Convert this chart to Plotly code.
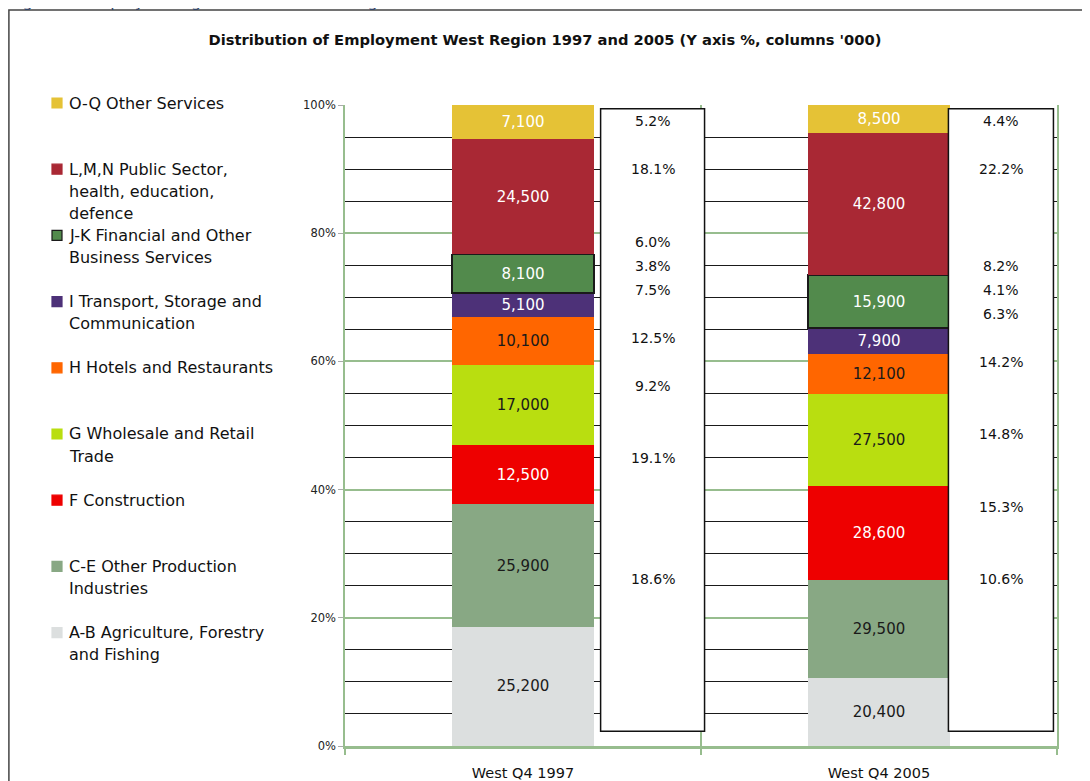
import plotly.graph_objects as go

# categories and values ('000 employees), bottom of stack first
years = ["West Q4 1997", "West Q4 2005"]
sectors = [
    "A-B Agriculture, Forestry and Fishing",
    "C-E Other Production Industries",
    "F Construction",
    "G Wholesale and Retail Trade",
    "H Hotels and Restaurants",
    "I Transport, Storage and Communication",
    "J-K Financial and Other Business Services",
    "L,M,N Public Sector, health, education, defence",
    "O-Q Other Services",
]
emp_1997 = [25200, 25900, 12500, 17000, 10100, 5100, 8100, 24500, 7100]
emp_2005 = [20400, 29500, 28600, 27500, 12100, 7900, 15900, 42800, 8500]

colors = ["#DCDFDF", "#88A884", "#EE0000", "#B9DE10", "#FF6600",
          "#4D3178", "#528A4C", "#A92834", "#E5C236"]
text_colors = ["#1a1a1a", "#1a1a1a", "white", "#1a1a1a", "#1a1a1a",
               "white", "white", "white", "white"]

# legend wording as it is wrapped in the original (top item first)
legend_lines = [
    ["O-Q Other Services"],
    ["L,M,N Public Sector,", "health, education,", "defence"],
    ["J-K Financial and Other", "Business Services"],
    ["I Transport, Storage and", "Communication"],
    ["H Hotels and Restaurants"],
    ["G Wholesale and Retail", "Trade"],
    ["F Construction"],
    ["C-E Other Production", "Industries"],
    ["A-B Agriculture, Forestry", "and Fishing"],
]

# text-box line slot of each share label (top item first)
share_lines_1997 = [0, 2, 5, 6, 7, 9, 11, 14, 19]
share_lines_2005 = [0, 2, 6, 7, 8, 10, 13, 16, 19]

y_ticks = [0, 20, 40, 60, 80, 100]

FONT = "DejaVu Sans"
GREEN = "#97BD8E"

# the page body has an 8px margin, so the svg starts at page (8, 8)
W, H = 1090, 781
OFF = 8
PX0, PX1, PY0, PY1 = 345, 1057, 105, 746   # plot area in page pixels


def px(x):
    return (x - PX0) / (PX1 - PX0)


def py(y):
    return (PY1 - y) / (PY1 - PY0)


fig = go.Figure()
for i, name in enumerate(sectors):
    vals = [emp_1997[i], emp_2005[i]]
    fig.add_trace(go.Bar(
        x=years, y=vals, name=name,
        width=0.4,
        marker=dict(color=colors[i],
                    line=dict(color="#1a1a1a", width=1.5 if name.startswith("J-K") else 0)),
        text=[f"{v:,}" for v in vals],
        texttemplate="%{text}",
        textposition="inside",
        insidetextanchor="middle",
        textangle=0,
        textfont=dict(family=FONT, size=15, color=text_colors[i]),
        showlegend=False,
    ))

shapes = []
annotations = []

# white text boxes holding the shares
for x0, x1 in [(0.218, 0.51), (1.195, 1.49)]:
    shapes.append(dict(type="rect", xref="x", yref="y", x0=x0, x1=x1, y0=2.3, y1=99.4,
                       fillcolor="white", line=dict(color="#111", width=1.5), layer="above"))

for k, (vals, slots) in enumerate([(emp_1997, share_lines_1997), (emp_2005, share_lines_2005)]):
    total = sum(vals)
    xc = [0.364, 1.342][k]
    for v, slot in zip(reversed(vals), slots):
        annotations.append(dict(
            x=xc, y=97.5 - 3.76 * slot, xref="x", yref="y",
            text=f"{100 * v / total:.1f}%", showarrow=False,
            font=dict(family=FONT, size=14, color="#111"),
        ))

# hand-placed legend on the left
for j, lines in enumerate(legend_lines):
    top = 103 + 66.2 * j
    ci = len(sectors) - 1 - j
    shapes.append(dict(type="rect", xref="paper", yref="paper",
                       x0=px(52), x1=px(62), y0=py(top + 5), y1=py(top - 5),
                       fillcolor=colors[ci],
                       line=dict(color="#1a1a1a" if ci == 6 else colors[ci], width=1.2)))
    for n, line in enumerate(lines):
        annotations.append(dict(
            x=px(67), y=py(top + 22 * n), xref="paper", yref="paper",
            xanchor="left", yanchor="middle", text=line, showarrow=False,
            font=dict(family=FONT, size=16, color="#111"),
        ))

# outer chart frame and the clipped figure caption above it
shapes.append(dict(type="rect", xref="paper", yref="paper",
                   x0=px(OFF + 0.9), x1=1.2, y0=-0.2, y1=py(10),
                   line=dict(color="#444", width=1.5), fillcolor="rgba(0,0,0,0)"))
annotations.append(dict(x=px(OFF), y=py(12.5), xref="paper", yref="paper",
                        xanchor="left", yanchor="bottom", showarrow=False,
                        text="Figure 8: Employment growth in the West Region",
                        font=dict(family=FONT, size=16, color="#34476B")))

fig.update_layout(
    width=W, height=H,
    margin=dict(l=PX0 - OFF, r=W + OFF - PX1, t=PY0 - OFF, b=H + OFF - PY1),
    paper_bgcolor="white", plot_bgcolor="white",
    barmode="stack", barnorm="percent", bargap=0.6,
    uniformtext=dict(minsize=15, mode="show"),
    title=dict(text="<b>Distribution of Employment West Region 1997 and 2005 (Y axis %, columns '000)</b>",
               x=(545 - OFF) / W, xref="container", xanchor="center",
               y=1 - (40 - OFF) / H, yanchor="middle", automargin=False,
               font=dict(family=FONT, size=14.7, color="#111")),
    font=dict(family=FONT),
    shapes=shapes, annotations=annotations,
    xaxis=dict(tickson="boundaries", showgrid=True, gridcolor=GREEN, gridwidth=1.5,
               showline=True, linecolor=GREEN, linewidth=2.5,
               ticks="outside", ticklen=6, tickcolor=GREEN, tickwidth=1.5,
               ticklabelstandoff=12, automargin=False,
               tickfont=dict(family=FONT, size=14.5, color="#111")),
    yaxis=dict(range=[0, 100], tickmode="array", tickvals=y_ticks,
               ticktext=[f"{t}%" for t in y_ticks],
               showgrid=True, gridcolor=GREEN, gridwidth=1.5,
               minor=dict(dtick=5, showgrid=True, gridcolor="#1a1a1a", gridwidth=1.3),
               showline=True, linecolor=GREEN, linewidth=1.5, mirror=True,
               ticks="outside", ticklen=5, tickcolor="#aaa",
               zeroline=False, automargin=False,
               tickfont=dict(family=FONT, size=11.5, color="#222")),
)

fig.write_html("out.html")
